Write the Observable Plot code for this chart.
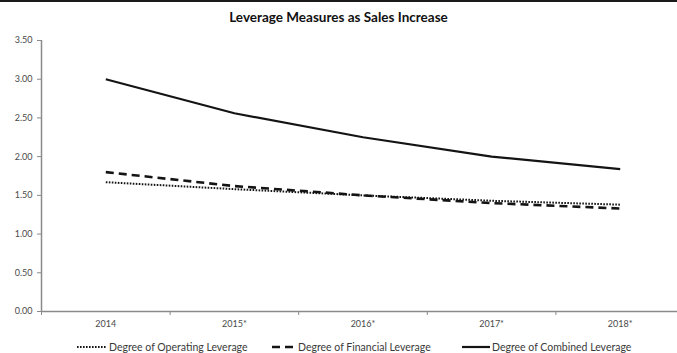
<!DOCTYPE html>
<html>
<head>
<meta charset="utf-8">
<script src="https://cdn.jsdelivr.net/npm/d3@7"></script>
<script src="https://cdn.jsdelivr.net/npm/@observablehq/plot@0.6"></script>
<style>
  html, body { margin: 0; padding: 0; background: #fff; overflow: hidden; }
  body { width: 677px; height: 353px; font-family: Lato, "Open Sans", sans-serif; }
  #topline { height: 2px; background: #1a1a1a; }
  #title { height: 28px; line-height: 30px; text-align: center; font-weight: bold; font-size: 13.5px; color: #111; }
  #chart svg { display: block; }
  #legend { position: relative; height: 23px; font-size: 10.5px; color: #3a3a3a; }
  .item { position: absolute; top: 0; height: 23px; display: flex; align-items: center; white-space: nowrap; }
  .item svg { display: block; margin-right: 2px; }
</style>
</head>
<body>
<div id="topline"></div>
<div id="title">Leverage Measures as Sales Increase</div>
<div id="chart"></div>
<div id="legend"></div>
<script>
// ---- data ----
const years = ["2014", "2015*", "2016*", "2017*", "2018*"];
const operating = [1.67, 1.58, 1.50, 1.43, 1.38];
const financial = [1.80, 1.62, 1.50, 1.40, 1.33];
const combined  = [3.00, 2.56, 2.25, 2.00, 1.84];
const seriesNames = ["Degree of Operating Leverage", "Degree of Financial Leverage", "Degree of Combined Leverage"];
const yTicks = [0, 0.5, 1, 1.5, 2, 2.5, 3, 3.5];

const toRows = (vals, name) => vals.map((v, i) => ({i, year: years[i], value: v, series: name}));
const rowsOp = toRows(operating, seriesNames[0]);
const rowsFin = toRows(financial, seriesNames[1]);
const rowsComb = toRows(combined, seriesNames[2]);

const styles = {
  [seriesNames[0]]: {strokeWidth: 2, dash: "1.6,1.4"},
  [seriesNames[1]]: {strokeWidth: 2.6, dash: "8,5"},
  [seriesNames[2]]: {strokeWidth: 2.2, dash: null}
};

const idx = years.map((d, i) => i);
const boundaries = [-0.5, ...idx.map(i => i + 0.5)];
const axisColor = "#8a8a8a";
const lineColor = "#141414";
const labelColor = "#4a4a4a";

const plot = Plot.plot({
  width: 677,
  height: 305,
  marginLeft: 41,
  marginRight: -7,
  marginTop: 10,
  marginBottom: 24,
  style: {fontFamily: "Lato, 'Open Sans', sans-serif", fontSize: "9px", color: labelColor, background: "transparent"},
  x: {type: "linear", domain: [-0.5, years.length - 0.5]},
  y: {domain: [0, 3.5]},
  marks: [
    Plot.axisY({ticks: yTicks, tickFormat: d3.format(".2f"), tickSize: 4, tickPadding: 5, stroke: axisColor, label: null, fill: labelColor}),
    Plot.axisX({ticks: idx, tickFormat: i => years[i], tickSize: 0, tickPadding: 9, label: null, fill: labelColor}),
    Plot.axisX({ticks: boundaries, tickFormat: () => "", tickSize: 4, stroke: axisColor, label: null}),
    Plot.ruleX([-0.5], {stroke: axisColor, strokeWidth: 1.5}),
    Plot.ruleY([0], {stroke: axisColor, strokeWidth: 1.5}),
    ...[rowsOp, rowsFin, rowsComb].map(rows => {
      const s = styles[rows[0].series];
      return Plot.line(rows, {x: "i", y: "value", stroke: lineColor, strokeWidth: s.strokeWidth, strokeDasharray: s.dash, strokeLinecap: "butt", curve: "linear"});
    })
  ]
});
document.getElementById("chart").appendChild(plot);

// ---- legend ----
const legendPos = [{left: 77, sw: 30}, {left: 272, sw: 24}, {left: 462, sw: 28}];
const legend = document.getElementById("legend");
seriesNames.forEach((name, k) => {
  const s = styles[name];
  const item = document.createElement("div");
  item.className = "item";
  item.style.left = legendPos[k].left + "px";
  const w = legendPos[k].sw;
  item.innerHTML = `<svg width="${w}" height="6"><line x1="0" x2="${w}" y1="3" y2="3" stroke="${lineColor}" stroke-width="${s.strokeWidth}" ${s.dash ? `stroke-dasharray="${s.dash}"` : ""}/></svg><span>${name}</span>`;
  legend.appendChild(item);
});
</script>
</body>
</html>
